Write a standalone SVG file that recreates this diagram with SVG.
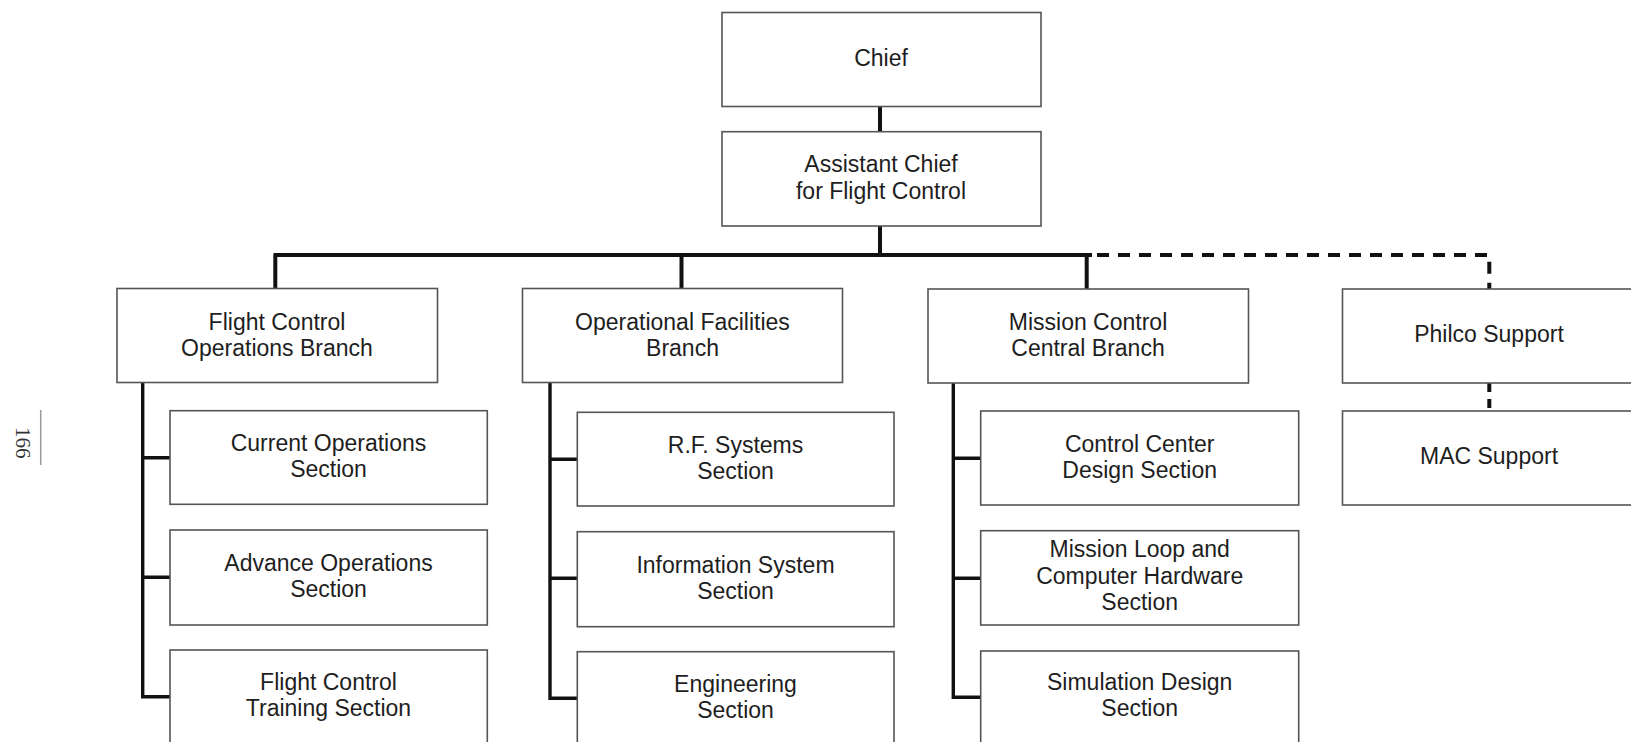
<svg xmlns="http://www.w3.org/2000/svg" width="1631" height="742" viewBox="0 0 1631 742">
<style>
.box{fill:#fff;stroke:#555;stroke-width:1.6}
.t{font-family:"Liberation Sans",Arial,Helvetica,sans-serif;font-size:23px;fill:#1e1e1e;text-anchor:middle}
.c{stroke:#111;stroke-width:4;fill:none}
.ci{stroke:#111;stroke-width:3.4;fill:none}
.d{stroke:#111;stroke-width:4;fill:none;stroke-dasharray:12 9}
.pg{font-family:"Liberation Serif","Times New Roman",serif;font-size:21px;fill:#333}
</style>
<rect width="1631" height="742" fill="#fff"/>
<g id="connectors">
<path class="c" d="M880 106 V132 M880 226 V255 M273.5 255 H1092 M275.3 255 V289 M681.5 255 V289 M1086.7 255 V289"/>
<path class="d" d="M1097 255 H1489.3 V289"/>
<path class="d" d="M1489.3 383 V411" style="stroke-dasharray:9 7"/>
<path class="ci" d="M142.7 382 V696.7 H170 M142.7 457.7 H170 M142.7 577.3 H170"/>
<path class="ci" d="M550 382 V698.3 H577 M550 459.3 H577 M550 578.3 H577"/>
<path class="ci" d="M953.3 383 V697.3 H981 M953.3 458.3 H981 M953.3 578.3 H981"/>
</g>
<g id="chief"><rect class="box" x="722" y="12.5" width="319" height="94"/><text class="t" x="881" y="66">Chief</text></g>
<g id="assistant"><rect class="box" x="722" y="131.7" width="319" height="94.3"/><text class="t" x="881" y="172">Assistant Chief</text><text class="t" x="881" y="199">for Flight Control</text></g>
<g id="fcob"><rect class="box" x="117" y="288.5" width="320.5" height="94"/><text class="t" x="277" y="330">Flight Control</text><text class="t" x="277" y="356">Operations Branch</text></g>
<g id="ofb"><rect class="box" x="522.5" y="288.5" width="320" height="94"/><text class="t" x="682.5" y="330">Operational Facilities</text><text class="t" x="682.5" y="356">Branch</text></g>
<g id="mccb"><rect class="box" x="928" y="289" width="320.5" height="94"/><text class="t" x="1088" y="330">Mission Control</text><text class="t" x="1088" y="356">Central Branch</text></g>
<g id="philco"><rect class="box" x="1342.5" y="289" width="300" height="94"/><text class="t" x="1489" y="342">Philco Support</text></g>
<g id="mac"><rect class="box" x="1342.5" y="411" width="300" height="94"/><text class="t" x="1489" y="464">MAC Support</text></g>
<g id="current-ops"><rect class="box" x="170" y="410.7" width="317.3" height="93.6"/><text class="t" x="328.5" y="451">Current Operations</text><text class="t" x="328.5" y="477">Section</text></g>
<g id="advance-ops"><rect class="box" x="170" y="530" width="317.3" height="95"/><text class="t" x="328.5" y="571">Advance Operations</text><text class="t" x="328.5" y="597">Section</text></g>
<g id="fc-training"><rect class="box" x="170" y="650" width="317.3" height="110"/><text class="t" x="328.5" y="690">Flight Control</text><text class="t" x="328.5" y="716">Training Section</text></g>
<g id="rf-systems"><rect class="box" x="577.3" y="412.3" width="316.7" height="93.7"/><text class="t" x="735.5" y="453">R.F. Systems</text><text class="t" x="735.5" y="479">Section</text></g>
<g id="info-system"><rect class="box" x="577.3" y="531.7" width="316.7" height="95"/><text class="t" x="735.5" y="573">Information System</text><text class="t" x="735.5" y="599">Section</text></g>
<g id="engineering"><rect class="box" x="577.3" y="651.7" width="316.7" height="110"/><text class="t" x="735.5" y="692">Engineering</text><text class="t" x="735.5" y="718">Section</text></g>
<g id="cc-design"><rect class="box" x="980.7" y="411" width="318" height="94"/><text class="t" x="1139.7" y="452">Control Center</text><text class="t" x="1139.7" y="478">Design Section</text></g>
<g id="mission-loop"><rect class="box" x="980.7" y="530.7" width="318" height="94.3"/><text class="t" x="1139.7" y="557">Mission Loop and</text><text class="t" x="1139.7" y="583.5">Computer Hardware</text><text class="t" x="1139.7" y="610">Section</text></g>
<g id="sim-design"><rect class="box" x="980.7" y="651" width="318" height="110"/><text class="t" x="1139.7" y="690">Simulation Design</text><text class="t" x="1139.7" y="716">Section</text></g>
<g id="page-number"><line x1="40.7" y1="410" x2="40.7" y2="465" stroke="#999" stroke-width="1.5"/><text class="pg" transform="translate(16 427) rotate(90)">166</text></g>
</svg>
